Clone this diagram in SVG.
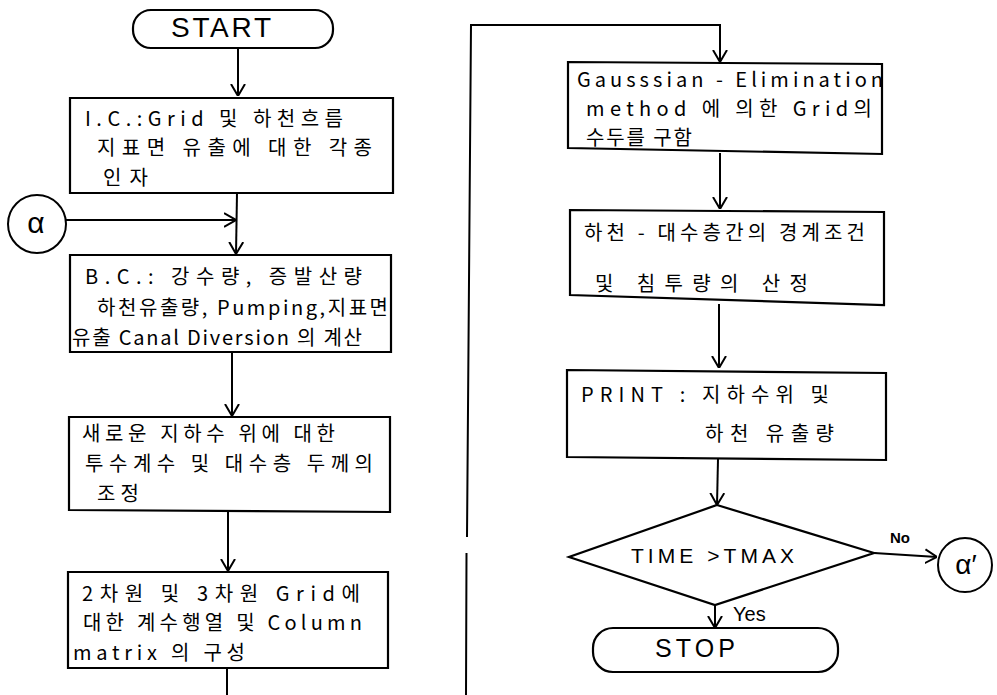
<svg xmlns="http://www.w3.org/2000/svg" width="997" height="695" viewBox="0 0 997 695">
<style>
.b{fill:#fff;stroke:#000;stroke-width:2.2}
.c{fill:none;stroke:#000;stroke-width:2}
.t{font-family:"Noto Sans CJK KR","Noto Sans",sans-serif;font-size:20px;fill:#000}
.l{font-family:"Liberation Sans",sans-serif;fill:#000}
</style>
<defs>
<marker id="ah" viewBox="0 0 12 16" refX="12" refY="8" markerWidth="12" markerHeight="16" markerUnits="userSpaceOnUse" orient="auto">
<path d="M0,1 L12,8 L0,15" fill="none" stroke="#000" stroke-width="2"/>
</marker>
</defs>
<rect width="997" height="695" fill="#fff"/>
<g id="connectors" class="c">
<path d="M238,48 L238,96" marker-end="url(#ah)"/>
<path d="M237,193 L236,254" marker-end="url(#ah)"/>
<path d="M66,220 L236,220" marker-end="url(#ah)"/>
<path d="M232,352 L232,416" marker-end="url(#ah)"/>
<path d="M228,511 L228,571" marker-end="url(#ah)"/>
<path d="M227,668 L227,695"/>
<path d="M466,695 L466.5,553 M467,537 L471,25 L720,25 L720,62" marker-end="url(#ah)"/>
<path d="M720,153 L720,209" marker-end="url(#ah)"/>
<path d="M719,304 L719,368" marker-end="url(#ah)"/>
<path d="M718,459 L717,505" marker-end="url(#ah)"/>
<path d="M874,553 L937,557" marker-end="url(#ah)"/>
<path d="M715,605 L715,628" marker-end="url(#ah)"/>
</g>
<g id="start">
<rect class="b" x="133" y="10" width="200" height="38" rx="18" ry="18"/>
<text class="l" x="171" y="37" font-size="28" textLength="100">START</text>
</g>
<g id="ic">
<path class="b" d="M70,98 L393,98 L393,193 L70,193 Z"/>
<text class="t" x="85" y="126" textLength="258">I.C.:Grid 및 하천흐름</text>
<text class="t" x="97" y="155" textLength="275">지표면 유출에 대한 각종</text>
<text class="t" x="103" y="185" textLength="45">인자</text>
</g>
<g id="alpha-in">
<circle class="c" cx="37" cy="224" r="29"/>
<text class="l" x="36" y="233" font-size="30" text-anchor="middle">α</text>
</g>
<g id="bc">
<path class="b" d="M70,255 L391,255 L391,352 L70,352 Z"/>
<text class="t" x="85" y="284" textLength="277">B.C.:  강수량, 증발산량</text>
<text class="t" x="97" y="315" textLength="291">하천유출량, Pumping,지표면</text>
<text class="t" x="72" y="345" textLength="290">유출 Canal Diversion 의 계산</text>
</g>
<g id="adjust">
<path class="b" d="M69,417 L390,417 L390,512 L69,510 Z"/>
<text class="t" x="82" y="441" textLength="253">새로운 지하수 위에 대한</text>
<text class="t" x="85" y="471" textLength="288">투수계수 및 대수층 두께의</text>
<text class="t" x="97" y="501" textLength="42">조정</text>
</g>
<g id="matrix">
<path class="b" d="M68,572 L388,572 L388,668 L68,668 Z"/>
<text class="t" x="82" y="601" textLength="278">2차원 및 3차원 Grid에</text>
<text class="t" x="83" y="630" textLength="279">대한 계수행열 및 Column</text>
<text class="t" x="73" y="660" textLength="172">matrix 의 구성</text>
</g>
<g id="gauss">
<path class="b" d="M568,62 L882,64 L882,154 L568,148 Z"/>
<text class="t" x="577" y="87" textLength="306">Gausssian - Elimination</text>
<text class="t" x="586" y="116" textLength="286">method 에 의한 Grid의</text>
<text class="t" x="586" y="145" textLength="106">수두를 구함</text>
</g>
<g id="boundary">
<path class="b" d="M570,210 L884,212 L884,305 L570,295 Z"/>
<text class="t" x="584" y="240" textLength="281">하천 - 대수층간의 경계조건</text>
<text class="t" x="595" y="291" textLength="213">및 침투량의 산정</text>
</g>
<g id="print">
<path class="b" d="M567,370 L886,373 L886,460 L567,457 Z"/>
<text class="t" x="581" y="402" textLength="248">PRINT : 지하수위 및</text>
<text class="t" x="705" y="441" textLength="129">하천 유출량</text>
</g>
<g id="decision">
<polygon class="b" points="717,505 874,553 715,605 569,557"/>
<text class="l" x="631" y="563" font-size="21" textLength="163">TIME &gt;TMAX</text>
<text class="l" x="890" y="543" font-size="15" font-weight="bold">No</text>
<text class="l" x="733" y="621" font-size="20">Yes</text>
</g>
<g id="alpha-out">
<circle class="c" cx="965" cy="565" r="27"/>
<text class="l" x="966" y="574" font-size="28" text-anchor="middle">α′</text>
</g>
<g id="stop">
<rect class="b" x="593" y="628" width="245" height="44" rx="20" ry="20"/>
<text class="l" x="655" y="657" font-size="25" textLength="80">STOP</text>
</g>
</svg>
